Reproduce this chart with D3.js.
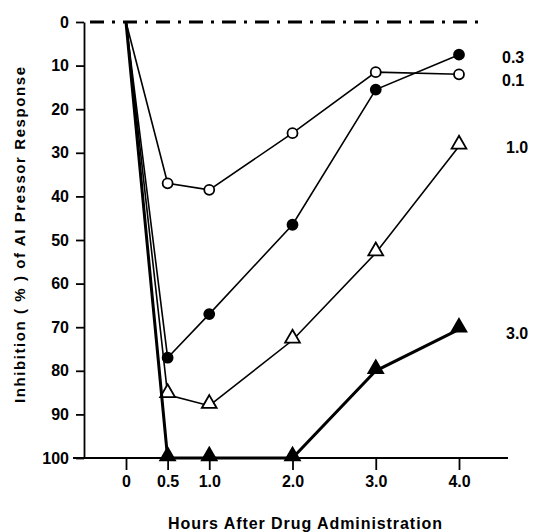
<meta charset="utf-8" />
<style>body { margin: 0; }</style>
<svg width="539" height="532"></svg>
<script src="https://cdn.jsdelivr.net/npm/d3@7"></script>
<script>
	// hours after drug administration
	var hours = [0, 0.5, 1, 2, 3, 4];
	var doses = ['0.1', '0.3', '1.0', '3.0'];
	var dose01 = [0, 37, 38.5, 25.5, 11.5, 12];
	var dose03 = [0, 77, 67, 46.5, 15.5, 7.5];
	var dose10 = [0, 85.5, 88, 73, 53, 28.5];
	var dose30 = [0, 100, 100, 100, 80, 70.5];
	var yTicks = [0, 10, 20, 30, 40, 50, 60, 70, 80, 90, 100];
	var xTicks = [0, 0.5, 1, 2, 3, 4];

	var svg = d3.select('svg').style('background', '#fff'),
		font = '"Liberation Sans", Arial, sans-serif';

	var x = d3.scaleLinear().domain([0, 4]).range([126, 459]);
	var y = d3.scaleLinear().domain([0, 100]).range([22, 458]);

	var series = [
		{ label: '0.1', values: dose01, fill: '#fff', shape: 'circle', width: 1.6 },
		{ label: '0.3', values: dose03, fill: '#000', shape: 'circle', width: 1.6 },
		{ label: '1.0', values: dose10, fill: '#fff', shape: 'triangle', width: 1.6 },
		{ label: '3.0', values: dose30, fill: '#000', shape: 'triangle', width: 3 }
	];

	// baseline at 0 %
	svg.append('line')
		.attr('x1', 90).attr('x2', 482)
		.attr('y1', y(0)).attr('y2', y(0))
		.attr('stroke', '#000').attr('stroke-width', 3)
		.attr('stroke-dasharray', '14,8,3,8');

	// y axis
	var yAxis = svg.append('g')
		.attr('transform', 'translate(84,0)')
		.call(d3.axisLeft(y).tickValues(yTicks).tickSize(8).tickSizeOuter(0).tickPadding(7));
	yAxis.select('.domain').attr('stroke-width', 1.8);
	yAxis.selectAll('.tick line').attr('stroke-width', 1.8);
	yAxis.selectAll('text')
		.style('font-family', font).style('font-size', '16px').style('font-weight', 'bold');

	// x axis
	var xAxis = svg.append('g')
		.attr('transform', 'translate(0,' + y(100) + ')')
		.call(d3.axisBottom(x).tickValues(xTicks).tickSize(12).tickPadding(6)
			.tickFormat(d => d === 0 ? '0' : d3.format('.1f')(d)));
	xAxis.select('.domain').remove();
	xAxis.selectAll('.tick line').attr('stroke-width', 1.8);
	xAxis.selectAll('text')
		.style('font-family', font).style('font-size', '16px').style('font-weight', 'bold');
	svg.append('line')
		.attr('x1', 73).attr('x2', 508)
		.attr('y1', y(100)).attr('y2', y(100))
		.attr('stroke', '#000').attr('stroke-width', 2);

	var line = d3.line()
		.x((d, i) => x(hours[i]))
		.y(d => y(d));

	var tri = d3.symbol().type(d3.symbolTriangle).size(95);

	series.forEach(s => {
		svg.append('path')
			.attr('d', line(s.values))
			.attr('fill', 'none')
			.attr('stroke', '#000')
			.attr('stroke-width', s.width);

		var pts = svg.append('g').selectAll('.pt')
			.data(s.values.slice(1))
			.enter();
		if (s.shape === 'circle') {
			pts.append('circle')
				.attr('cx', (d, i) => x(hours[i + 1]))
				.attr('cy', d => y(d))
				.attr('r', 5)
				.attr('fill', s.fill)
				.attr('stroke', '#000')
				.attr('stroke-width', 1.8);
		} else {
			pts.append('path')
				.attr('d', tri)
				.attr('transform', (d, i) => 'translate(' + x(hours[i + 1]) + ',' + (y(d) - 2) + ')')
				.attr('fill', s.fill)
				.attr('stroke', '#000')
				.attr('stroke-width', 1.8);
		}
	});

	// dose labels
	var labelY = { '0.3': 57, '0.1': 80, '1.0': 147, '3.0': 333 };
	svg.selectAll('.dose')
		.data(doses)
		.enter().append('text')
		.attr('x', d => d === '0.1' || d === '0.3' ? 502 : 506)
		.attr('y', d => labelY[d])
		.attr('dy', '0.35em')
		.style('font-family', font).style('font-size', '16px').style('font-weight', 'bold')
		.text(d => d);

	svg.append('text')
		.attr('x', 168).attr('y', 529)
		.attr('textLength', 274).attr('lengthAdjust', 'spacing')
		.style('font-family', font).style('font-size', '16px').style('font-weight', 'bold')
		.text('Hours After Drug Administration');

	svg.append('text')
		.attr('transform', 'translate(25,403) rotate(-90)')
		.attr('textLength', 336).attr('lengthAdjust', 'spacing')
		.style('font-family', font).style('font-size', '15px').style('font-weight', 'bold')
		.text('Inhibition ( % ) of AI Pressor Response');
</script>
